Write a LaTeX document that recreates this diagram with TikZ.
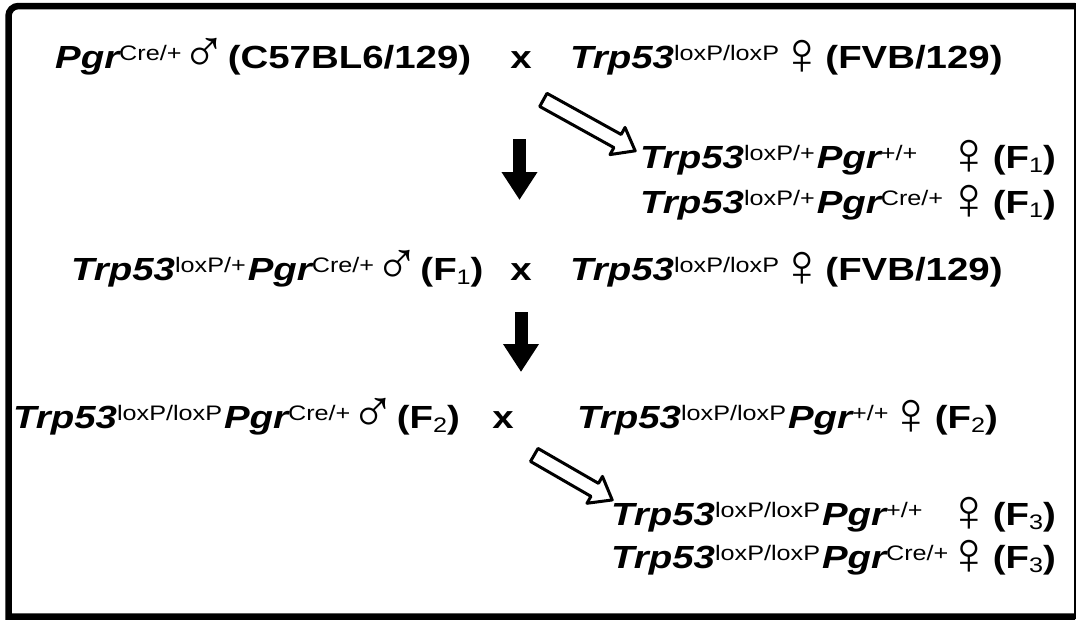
\documentclass[tikz,border=0pt]{standalone}
\usepackage{fontspec}
\usepackage{graphicx}
\setmainfont[FakeStretch=1.2]{Liberation Sans}
\newfontfamily\libsym{Liberation Sans}
\usetikzlibrary{arrows.meta,shapes.arrows}
\newcommand\gname[1]{{\itshape #1}}
\newcommand\gsup[1]{\raisebox{8pt}{\fontsize{21}{22}\selectfont\mdseries\upshape #1}}
\newcommand\gsub[1]{\raisebox{-4pt}{\fontsize{21}{22}\selectfont\mdseries #1}}
\newcommand\msym{\makebox[25pt][c]{\smash{\raisebox{-4pt}{\scalebox{1.9}{\libsym\mdseries ♂}}}}}
\newcommand\fsym{\makebox[25pt][c]{\smash{\raisebox{-6pt}{\scalebox{1.9}{\libsym\mdseries ♀}}}}}
\newcommand\gap{\kern2pt}
\tikzset{
  txt/.style={anchor=base west, inner sep=0pt, font=\fontsize{32}{36}\selectfont\bfseries},
  txte/.style={anchor=base east, inner sep=0pt, font=\fontsize{32}{36}\selectfont\bfseries},
  cross/.style={anchor=base, inner sep=0pt, font=\fontsize{32}{36}\selectfont\bfseries},
  blockarrow/.style={line width=13pt, -{Triangle[width=34pt,length=28pt]}},
  hollow/.style={single arrow, draw, line width=3pt, line join=round, minimum height=#1,
    single arrow head extend=8pt, single arrow tip angle=75, inner sep=6pt, fill=white},
  frameline/.style={line width=6.5pt},
}
\begin{document}
\begin{tikzpicture}[x=1pt,y=-1pt]
\useasboundingbox (0,0) rectangle (1078,619);
% frame
\draw[frameline] (1075,6) [rounded corners=10pt] -- (8.5,6) [sharp corners] -- (8.5,616.5) -- (1075,616.5);
\draw[line width=2.5pt] (1075,3) -- (1075,619);
% row 1
\node[txt] (p1) at (55,68) {\gname{Pgr}\gsup{Cre/+} \msym{} (C57BL6/129)};
\node[cross] (x1) at (521,68) {x};
\node[txt] (t1) at (570,68) {\gname{Trp53}\gsup{loxP/loxP} \fsym{} (FVB/129)};
% F1 offspring
\node[hollow=105pt, rotate=-29] (h1) at (585,123) {};
\node[txt] (o1a) at (640,168) {\gname{Trp53}\gsup{loxP/+}\gap\gname{Pgr}\gsup{+/+}};
\node[txte] (o1as) at (1056,168) {\fsym{} (F\gsub{1})};
\node[txt] (o1b) at (640,213) {\gname{Trp53}\gsup{loxP/+}\gap\gname{Pgr}\gsup{Cre/+}};
\node[txte] (o1bs) at (1056,213) {\fsym{} (F\gsub{1})};
\coordinate (v1s) at (519.5,139);
\coordinate (v1e) at (519.5,200);
\draw[blockarrow] (v1s) -- (v1e);
% row 3
\node[txt] (p3) at (71,280) {\gname{Trp53}\gsup{loxP/+}\gap\gname{Pgr}\gsup{Cre/+} \msym{} (F\gsub{1})};
\node[cross] (x3) at (521,280) {x};
\node[txt] (t3) at (570,280) {\gname{Trp53}\gsup{loxP/loxP} \fsym{} (FVB/129)};
\coordinate (v2s) at (521,312);
\coordinate (v2e) at (521,372);
\draw[blockarrow] (v2s) -- (v2e);
% row 4
\node[txt] (p4) at (13,428) {\gname{Trp53}\gsup{loxP/loxP}\gap\gname{Pgr}\gsup{Cre/+} \msym{} (F\gsub{2})};
\node[cross] (x4) at (503,428) {x};
\node[txt] (t4) at (577,428) {\gname{Trp53}\gsup{loxP/loxP}\gap\gname{Pgr}\gsup{+/+} \fsym{} (F\gsub{2})};
% F3 offspring
\node[hollow=90pt, rotate=-30] (h2) at (569,475) {};
\node[txt] (o3a) at (611,525) {\gname{Trp53}\gsup{loxP/loxP}\gap\gname{Pgr}\gsup{+/+}};
\node[txte] (o3as) at (1056,525) {\fsym{} (F\gsub{3})};
\node[txt] (o3b) at (611,568) {\gname{Trp53}\gsup{loxP/loxP}\gap\gname{Pgr}\gsup{Cre/+}};
\node[txte] (o3bs) at (1056,568) {\fsym{} (F\gsub{3})};
\end{tikzpicture}
\end{document}
